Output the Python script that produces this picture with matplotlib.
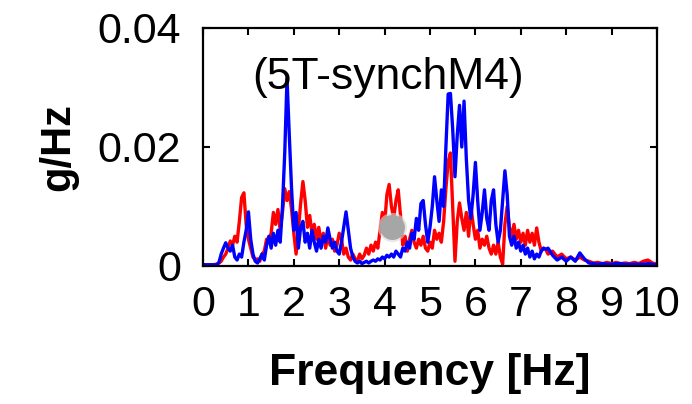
import matplotlib
matplotlib.use("Agg")
import matplotlib.pyplot as plt

plt.rcParams["font.family"] = ["Liberation Sans", "DejaVu Sans"]

# frequency bins [Hz]
freq = [0.0, 0.1, 0.2, 0.3, 0.35,
        0.40, 0.45, 0.50, 0.55, 0.60, 0.65, 0.70, 0.75, 0.80, 0.85, 0.90, 0.95,
        1.00, 1.05, 1.10, 1.15, 1.20, 1.25, 1.30, 1.35, 1.40, 1.45,
        1.50, 1.55, 1.60, 1.65, 1.70, 1.75, 1.80, 1.85, 1.90, 1.95,
        2.00, 2.05, 2.10, 2.15, 2.20, 2.25, 2.30, 2.35, 2.40, 2.45,
        2.50, 2.55, 2.60, 2.65, 2.70, 2.75, 2.80, 2.85, 2.90, 2.95,
        3.00, 3.05, 3.10, 3.15, 3.20, 3.25, 3.30, 3.35, 3.40, 3.45,
        3.50, 3.55, 3.60, 3.65, 3.70, 3.75, 3.80, 3.85, 3.90, 3.95,
        4.00, 4.05, 4.10, 4.15, 4.20, 4.25, 4.30, 4.35, 4.40, 4.45,
        4.50, 4.55, 4.60, 4.65, 4.70, 4.75, 4.80, 4.85, 4.90, 4.95,
        5.00, 5.05, 5.10, 5.15, 5.20, 5.25, 5.30, 5.35, 5.40, 5.45,
        5.50, 5.55, 5.60, 5.65, 5.70, 5.75, 5.80, 5.85, 5.90, 5.95,
        6.00, 6.05, 6.10, 6.15, 6.20, 6.25, 6.30, 6.35, 6.40, 6.45,
        6.50, 6.55, 6.60, 6.65, 6.70, 6.75, 6.80, 6.85, 6.90, 6.95,
        7.00, 7.05, 7.10, 7.15, 7.20, 7.25, 7.30, 7.35, 7.40, 7.45,
        7.50, 7.55, 7.60,
        7.7, 7.8, 7.9, 8.0, 8.1, 8.2, 8.3, 8.4, 8.5, 8.6,
        8.7, 8.8, 8.9, 9.0, 9.1, 9.2, 9.3, 9.4, 9.5, 9.6,
        9.7, 9.8, 9.9, 10.0]

# red spectrum [g/Hz]
psd_red = [0.0002, 0.0002, 0.0002, 0.0003, 0.0005,
           0.0008, 0.0015, 0.0020, 0.0030, 0.0042, 0.0035, 0.0050, 0.0040, 0.0075, 0.0115, 0.0123, 0.0070,
           0.0045, 0.0030, 0.0015, 0.0010, 0.0012, 0.0008, 0.0020, 0.0025, 0.0045, 0.0040,
           0.0055, 0.0090, 0.0070, 0.0095, 0.0060, 0.0090, 0.0130, 0.0110, 0.0125, 0.0095,
           0.0055, 0.0020, 0.0060, 0.0105, 0.0142, 0.0110, 0.0065, 0.0085, 0.0055, 0.0070,
           0.0045, 0.0065, 0.0040, 0.0055, 0.0030, 0.0050, 0.0035, 0.0045, 0.0025, 0.0035,
           0.0055, 0.0045, 0.0020, 0.0030, 0.0015, 0.0010, 0.0020, 0.0012, 0.0008, 0.0020,
           0.0012, 0.0018, 0.0030, 0.0020, 0.0035, 0.0025, 0.0040, 0.0030, 0.0060, 0.0090,
           0.0070, 0.0120, 0.0137, 0.0100, 0.0080, 0.0110, 0.0128, 0.0085, 0.0035, 0.0050,
           0.0025, 0.0045, 0.0060, 0.0040, 0.0030, 0.0045, 0.0035, 0.0050, 0.0030, 0.0025,
           0.0040, 0.0030, 0.0060, 0.0045, 0.0055, 0.0040, 0.0075, 0.0130, 0.0175, 0.0190,
           0.0100, 0.0008, 0.0075, 0.0106, 0.0080, 0.0060, 0.0090, 0.0050, 0.0100, 0.0070,
           0.0045, 0.0060, 0.0030, 0.0045, 0.0035, 0.0050, 0.0030, 0.0020, 0.0035, 0.0020,
           0.0040, 0.0015, 0.0003, 0.0070, 0.0100, 0.0065, 0.0050, 0.0070, 0.0045, 0.0060,
           0.0040, 0.0055, 0.0035, 0.0060, 0.0040, 0.0055, 0.0035, 0.0064, 0.0040, 0.0025,
           0.0030, 0.0028, 0.0020,
           0.0025, 0.0015, 0.0020, 0.0012, 0.0015, 0.0010, 0.0015, 0.0010, 0.0008, 0.0005,
           0.0006, 0.0004, 0.0006, 0.0004, 0.0006, 0.0004, 0.0005, 0.0004, 0.0006, 0.0004,
           0.0008, 0.0010, 0.0005, 0.0003]

# blue spectrum [g/Hz]
psd_blue = [0.0002, 0.0002, 0.0002, 0.0002, 0.0006,
            0.0020, 0.0030, 0.0039, 0.0030, 0.0025, 0.0035, 0.0015, 0.0010, 0.0020, 0.0015, 0.0040, 0.0060,
            0.0091, 0.0045, 0.0020, 0.0008, 0.0005, 0.0012, 0.0020, 0.0010, 0.0035, 0.0050,
            0.0030, 0.0055, 0.0035, 0.0060, 0.0040, 0.0100, 0.0190, 0.0315, 0.0220, 0.0130,
            0.0060, 0.0090, 0.0030, 0.0065, 0.0075, 0.0040, 0.0055, 0.0030, 0.0060, 0.0040,
            0.0025, 0.0045, 0.0030, 0.0050, 0.0040, 0.0064, 0.0045, 0.0030, 0.0040, 0.0025,
            0.0020, 0.0040, 0.0065, 0.0091, 0.0060, 0.0030, 0.0015, 0.0008, 0.0005, 0.0008,
            0.0004, 0.0006, 0.0008, 0.0005, 0.0008, 0.0010, 0.0008, 0.0012, 0.0010, 0.0015,
            0.0012, 0.0018, 0.0015, 0.0020, 0.0015, 0.0025, 0.0020, 0.0015, 0.0030, 0.0025,
            0.0040, 0.0030, 0.0055, 0.0045, 0.0080, 0.0060, 0.0105, 0.0110, 0.0070, 0.0040,
            0.0065, 0.0100, 0.0150, 0.0110, 0.0075, 0.0128, 0.0100, 0.0200, 0.0289, 0.0290,
            0.0230, 0.0150, 0.0220, 0.0270, 0.0200, 0.0277, 0.0180, 0.0110, 0.0080, 0.0120,
            0.0174, 0.0110, 0.0060, 0.0090, 0.0128, 0.0080, 0.0060, 0.0110, 0.0128, 0.0070,
            0.0040, 0.0060, 0.0110, 0.0160, 0.0120, 0.0050, 0.0035, 0.0050, 0.0030, 0.0040,
            0.0025, 0.0035, 0.0020, 0.0030, 0.0015, 0.0025, 0.0012, 0.0020, 0.0015, 0.0025,
            0.0030, 0.0028, 0.0030,
            0.0018, 0.0010, 0.0015, 0.0008, 0.0015, 0.0008, 0.0022, 0.0012, 0.0005, 0.0004,
            0.0003, 0.0004, 0.0003, 0.0003, 0.0004, 0.0004, 0.0003, 0.0003, 0.0003, 0.0003,
            0.0003, 0.0004, 0.0003, 0.0002]

# grey marker
dot_f = [4.16]
dot_v = [0.0066]

xticks = [0, 1, 2, 3, 4, 5, 6, 7, 8, 9, 10]
yticks = [0, 0.02, 0.04]
ytick_labels = ["0", "0.02", "0.04"]

fig = plt.figure(figsize=(6.92, 4.04), dpi=100)
ax = fig.add_axes([0.2934, 0.3416, 0.6560, 0.5891])

ax.plot(freq, psd_red, color="#ff0000", lw=2.4)
ax.plot(freq, psd_blue, color="#0000ff", lw=2.4)

# soft shadow + grey ball
ax.plot(dot_f, dot_v, "o", ms=21, color="#d8d8d8", alpha=0.6, mec="none", zorder=5)
ax.plot(dot_f, dot_v, "o", ms=18, color="#a6a6a6", mec="none", zorder=6)

ax.set_xlim(0, 10)
ax.set_ylim(0, 0.04)
ax.set_xticks(xticks)
ax.set_yticks(yticks)
ax.set_yticklabels(ytick_labels)
ax.tick_params(direction="in", top=True, right=True, length=5, width=1.5,
               labelsize=31)
ax.tick_params(axis="x", pad=14)
ax.tick_params(axis="y", pad=16)
for s in ax.spines.values():
    s.set_linewidth(1.6)

ax.text(0.408, 0.79, "(5T-synchM4)", transform=ax.transAxes,
        ha="center", va="center", fontsize=32)

ax.set_xlabel("Frequency [Hz]", fontsize=32, fontweight="bold", labelpad=20)
ax.set_ylabel("g/Hz", fontsize=30, fontweight="bold", labelpad=14)

fig.savefig("out.png", dpi=100)
